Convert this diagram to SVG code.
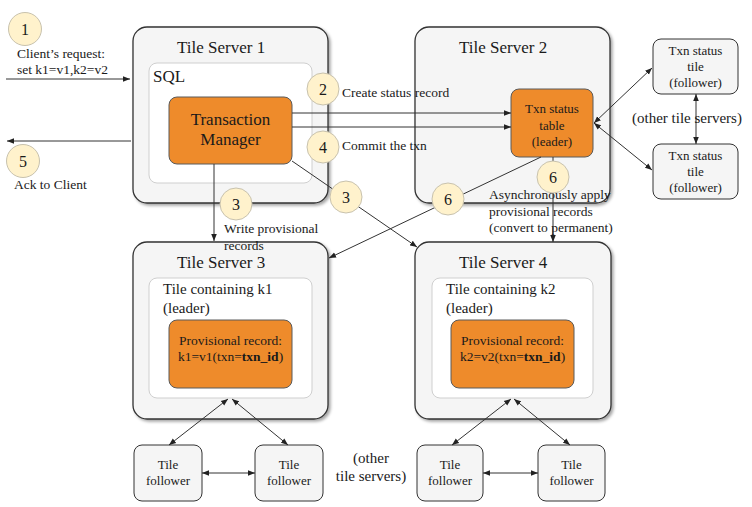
<svg xmlns="http://www.w3.org/2000/svg" width="752" height="507" viewBox="0 0 752 507" font-family="'Liberation Serif', 'DejaVu Serif', serif">
<style>
text{font-family:'Liberation Serif','DejaVu Serif',serif;fill:#1a1a1a}
.server{fill:#f5f5f5;stroke:#333;stroke-width:1.3;filter:url(#sh)}
.inner{fill:#fff;stroke:#cfcfcf;stroke-width:1}
.orange{fill:#ee8b2b;stroke:#5a5a5a;stroke-width:1}
.small{fill:#f5f5f5;stroke:#333;stroke-width:1}
.num{fill:#fff2cc;stroke:#c8c2ae;stroke-width:1}
.conn line{stroke:#333;stroke-width:1;fill:none}
.t17{font-size:17px}
.t15{font-size:15px}
.t13{font-size:13.5px}
.t13s{font-size:13px}
.n{font-size:16px;text-anchor:middle}
.c{text-anchor:middle}
</style>
<defs>
<filter id="sh" x="-10%" y="-10%" width="125%" height="125%">
<feDropShadow dx="2" dy="2" stdDeviation="1.5" flood-color="#000" flood-opacity="0.35"/>
</filter>
<marker id="ah" viewBox="0 0 10 10" refX="10" refY="5" markerWidth="7" markerHeight="7" orient="auto-start-reverse">
<path d="M0,1 L10,5 L0,9 z" fill="#222"/>
</marker>
</defs>

<g id="ts1">
<rect class="server" x="133" y="27" width="195" height="176" rx="14"/>
<text class="t17" x="177" y="53">Tile Server 1</text>
<rect class="inner" x="149" y="63" width="163" height="120" rx="8"/>
<text class="t17" x="153" y="82">SQL</text>
</g>
<g id="tm">
<rect class="orange" x="169" y="97" width="123" height="67" rx="8"/>
<text class="t17 c" x="230.5" y="125">Transaction</text>
<text class="t17 c" x="230.5" y="145">Manager</text>
</g>

<g id="ts2">
<rect class="server" x="415" y="27" width="195" height="176" rx="14"/>
<text class="t17" x="459" y="53">Tile Server 2</text>
</g>
<g id="status-table">
<rect class="orange" x="511" y="89" width="82" height="68" rx="8"/>
<text class="t13s c" x="552" y="113">Txn status</text>
<text class="t13s c" x="552" y="129.5">table</text>
<text class="t13s c" x="552" y="146">(leader)</text>
</g>

<g id="status-follower1">
<rect class="small" x="653" y="39" width="85" height="55" rx="8"/>
<text class="t13s c" x="695.5" y="55">Txn status</text>
<text class="t13s c" x="695.5" y="71">tile</text>
<text class="t13s c" x="695.5" y="87">(follower)</text>
</g>
<g id="status-follower2">
<rect class="small" x="653" y="144" width="85" height="55" rx="8"/>
<text class="t13s c" x="695.5" y="160">Txn status</text>
<text class="t13s c" x="695.5" y="176">tile</text>
<text class="t13s c" x="695.5" y="192">(follower)</text>
</g>

<g id="ts3">
<rect class="server" x="133" y="242" width="195" height="177" rx="14"/>
<text class="t17" x="177" y="268">Tile Server 3</text>
<rect class="inner" x="149" y="278" width="163" height="120" rx="8"/>
<text class="t15" x="163" y="294">Tile containing k1</text>
<text class="t15" x="163" y="313">(leader)</text>
</g>
<g id="rec1">
<rect class="orange" x="169" y="320" width="123" height="68" rx="8"/>
<text class="t13 c" x="230.5" y="345">Provisional record:</text>
<text class="t13 c" x="230.5" y="361">k1=v1(txn=<tspan font-weight="bold">txn_id</tspan>)</text>
</g>

<g id="ts4">
<rect class="server" x="415" y="242" width="196" height="177" rx="14"/>
<text class="t17" x="459" y="268">Tile Server 4</text>
<rect class="inner" x="432" y="278" width="161" height="120" rx="8"/>
<text class="t15" x="446" y="294">Tile containing k2</text>
<text class="t15" x="446" y="313">(leader)</text>
</g>
<g id="rec2">
<rect class="orange" x="451" y="320" width="123" height="68" rx="8"/>
<text class="t13 c" x="512.5" y="345">Provisional record:</text>
<text class="t13 c" x="512.5" y="361">k2=v2(txn=<tspan font-weight="bold">txn_id</tspan>)</text>
</g>

<g id="tf1">
<rect class="small" x="134" y="445" width="68" height="56" rx="8"/>
<text class="t13s c" x="168" y="469">Tile</text>
<text class="t13s c" x="168" y="485">follower</text>
</g>
<g id="tf2">
<rect class="small" x="255" y="445" width="68" height="56" rx="8"/>
<text class="t13s c" x="289" y="469">Tile</text>
<text class="t13s c" x="289" y="485">follower</text>
</g>
<g id="tf3">
<rect class="small" x="417" y="445" width="66" height="56" rx="8"/>
<text class="t13s c" x="450" y="469">Tile</text>
<text class="t13s c" x="450" y="485">follower</text>
</g>
<g id="tf4">
<rect class="small" x="538" y="445" width="67" height="56" rx="8"/>
<text class="t13s c" x="571.5" y="469">Tile</text>
<text class="t13s c" x="571.5" y="485">follower</text>
</g>

<g id="connectors" class="conn">
<line x1="6" y1="79" x2="130" y2="79" marker-end="url(#ah)"/>
<line x1="131" y1="141" x2="7" y2="141" marker-end="url(#ah)"/>
<line x1="292" y1="113" x2="511" y2="113" marker-end="url(#ah)"/>
<line x1="292" y1="127" x2="511" y2="127" marker-end="url(#ah)"/>
<line x1="214" y1="164" x2="214" y2="241" marker-end="url(#ah)"/>
<line x1="292" y1="161" x2="417" y2="247" marker-end="url(#ah)"/>
<line x1="541" y1="157" x2="329" y2="258" marker-end="url(#ah)"/>
<line x1="553" y1="157" x2="553" y2="242" marker-end="url(#ah)"/>
<line x1="594" y1="123" x2="652" y2="68" marker-start="url(#ah)" marker-end="url(#ah)"/>
<line x1="594" y1="123" x2="652" y2="170" marker-start="url(#ah)" marker-end="url(#ah)"/>
<line x1="696" y1="94" x2="696" y2="144" marker-start="url(#ah)" marker-end="url(#ah)"/>
<line x1="228" y1="399" x2="169" y2="445" marker-start="url(#ah)" marker-end="url(#ah)"/>
<line x1="232" y1="399" x2="288" y2="445" marker-start="url(#ah)" marker-end="url(#ah)"/>
<line x1="202" y1="473" x2="255" y2="473" marker-start="url(#ah)" marker-end="url(#ah)"/>
<line x1="511" y1="399" x2="452" y2="445" marker-start="url(#ah)" marker-end="url(#ah)"/>
<line x1="514" y1="399" x2="570" y2="445" marker-start="url(#ah)" marker-end="url(#ah)"/>
<line x1="483" y1="473" x2="538" y2="473" marker-start="url(#ah)" marker-end="url(#ah)"/>
</g>

<g id="labels">
<text class="t13" x="17" y="58">Client’s request:</text>
<text class="t13" x="17" y="74">set k1=v1,k2=v2</text>
<text class="t13" x="14" y="189">Ack to Client</text>
<text class="t13" x="342" y="97">Create status record</text>
<text class="t13" x="342" y="150">Commit the txn</text>
<text class="t13" x="224" y="233">Write provisional</text>
<text class="t13" x="224" y="250">records</text>
<text class="t13" x="489" y="199">Asynchronously apply</text>
<text class="t13" x="489" y="216">provisional records</text>
<text class="t13" x="489" y="232">(convert to permanent)</text>
<text class="t15" x="632" y="123">(other tile servers)</text>
<text class="t15 c" x="371" y="463">(other</text>
<text class="t15 c" x="371" y="481">tile servers)</text>
</g>

<g id="steps">
<g id="step1"><circle class="num" cx="25" cy="29" r="16.5"/><text class="n" x="25" y="35">1</text></g>
<g id="step5"><circle class="num" cx="23" cy="161" r="16.5"/><text class="n" x="23" y="167">5</text></g>
<g id="step2"><circle class="num" cx="323" cy="89" r="16"/><text class="n" x="323" y="95">2</text></g>
<g id="step4"><circle class="num" cx="323" cy="147" r="16"/><text class="n" x="323" y="153">4</text></g>
<g id="step3a"><circle class="num" cx="236" cy="204" r="16"/><text class="n" x="236" y="210">3</text></g>
<g id="step3b"><circle class="num" cx="346" cy="197" r="16"/><text class="n" x="346" y="203">3</text></g>
<g id="step6a"><circle class="num" cx="448" cy="199" r="16"/><text class="n" x="448" y="205">6</text></g>
<g id="step6b"><circle class="num" cx="553" cy="177" r="16"/><text class="n" x="553" y="183">6</text></g>
</g>
</svg>
